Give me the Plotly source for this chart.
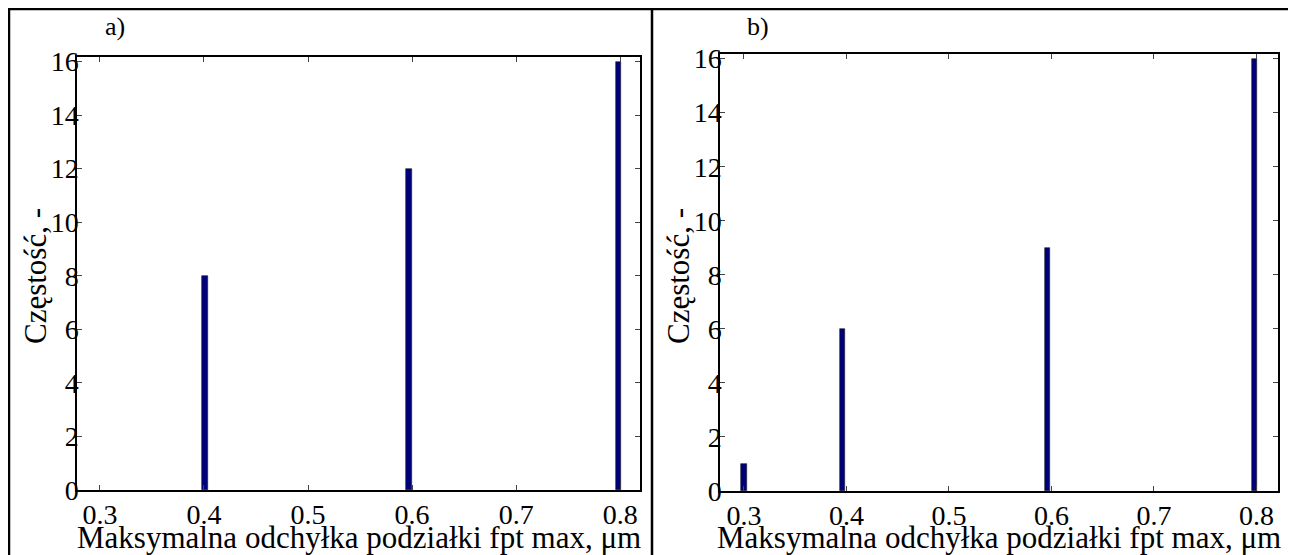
import plotly.graph_objects as go

# ---- data ----
x_a = [0.401, 0.597, 0.798]
y_a = [8, 12, 16]
x_b = [0.300, 0.396, 0.596, 0.798]
y_b = [1, 6, 9, 16]
x_ticks = [0.3, 0.4, 0.5, 0.6, 0.7, 0.8]
x_ticklabels = ["0.3", "0.4", "0.5", "0.6", "0.7", "0.8"]
y_ticks = [0, 2, 4, 6, 8, 10, 12, 14, 16]
panel_labels = ["a)", "b)"]
x_title = "Maksymalna odchyłka podziałki fpt max, μm"
y_title = "Częstość, -"

FONT = "Liberation Serif, Times New Roman, serif"
W, H = 1296, 555
OFF = 8  # page body margin in the browser
BAR_COLOR = "#00007A"
TICK_SIZE = 28
TITLE_SIZE = 31

fig = go.Figure()
bar_marker = dict(color=BAR_COLOR, line=dict(color="#1a1a1a", width=0.6))
fig.add_trace(go.Bar(x=x_a, y=y_a, width=0.005, marker=bar_marker, xaxis="x", yaxis="y", showlegend=False))
fig.add_trace(go.Bar(x=x_b, y=y_b, width=0.005, marker=bar_marker, xaxis="x2", yaxis="y2", showlegend=False))


def px_x(p):
    return (p - OFF) / W


def px_y(p):
    return (H - (p - OFF)) / H


def xax(dom, rng, anchor):
    return dict(domain=dom, range=rng, anchor=anchor, tickvals=x_ticks, ticktext=x_ticklabels,
                ticks="inside", ticklen=5, tickcolor="#444", tickwidth=1, showline=True, linecolor="black",
                linewidth=1.5, mirror="ticks", showgrid=False, zeroline=False, automargin=False,
                ticklabelstandoff=-1,
                tickfont=dict(family=FONT, size=TICK_SIZE, color="black"))


def yax(dom, anchor):
    return dict(domain=dom, range=[0, 16.17], anchor=anchor, tickvals=y_ticks, ticks="inside", ticklen=5,
                tickcolor="#444", tickwidth=1, showline=True, linecolor="black", linewidth=1.5,
                mirror="ticks", showgrid=False, zeroline=False, automargin=False, ticklabelstandoff=-9,
                tickfont=dict(family=FONT, size=TICK_SIZE, color="black"))


fig.update_layout(
    template="none",
    width=W, height=H,
    margin=dict(l=0, r=0, t=0, b=0, pad=0),
    paper_bgcolor="white", plot_bgcolor="white",
    bargap=0,
    xaxis=xax([px_x(77), px_x(640)], [0.278, 0.819], "y"),
    yaxis=yax([px_y(490), px_y(57)], "x"),
    xaxis2=xax([px_x(720), px_x(1278)], [0.2766, 0.821], "y2"),
    yaxis2=yax([px_y(491), px_y(54)], "x2"),
)

annots = []
for cx in [(77 + 640) / 2, (720 + 1278) / 2]:
    annots.append(dict(x=px_x(cx), y=px_y(537), xref="paper", yref="paper", text=x_title, showarrow=False,
                       xanchor="center", yanchor="middle", font=dict(family=FONT, size=TITLE_SIZE, color="black")))
for cx in [35, 678]:
    annots.append(dict(x=px_x(cx), y=px_y(276), xref="paper", yref="paper", text=y_title, showarrow=False,
                       textangle=-90, xanchor="center", yanchor="middle",
                       font=dict(family=FONT, size=TITLE_SIZE, color="black")))
for cx, lab in [(115, panel_labels[0]), (758, panel_labels[1])]:
    annots.append(dict(x=px_x(cx), y=px_y(27), xref="paper", yref="paper", text=lab, showarrow=False,
                       xanchor="center", yanchor="middle", font=dict(family=FONT, size=26, color="black")))
fig.update_layout(annotations=annots)

# outer frame and divider
frame = dict(color="black", width=2.5)
fig.add_shape(type="line", xref="paper", yref="paper", x0=px_x(9), x1=px_x(9), y0=px_y(600), y1=px_y(8), line=frame)
fig.add_shape(type="line", xref="paper", yref="paper", x0=px_x(8), x1=px_x(1290), y0=px_y(9), y1=px_y(9), line=frame)
fig.add_shape(type="line", xref="paper", yref="paper", x0=px_x(1290), x1=px_x(1290), y0=px_y(600), y1=px_y(8), line=frame)
fig.add_shape(type="line", xref="paper", yref="paper", x0=px_x(652), x1=px_x(652), y0=px_y(600), y1=px_y(8), line=frame)

fig.write_html("out.html")
